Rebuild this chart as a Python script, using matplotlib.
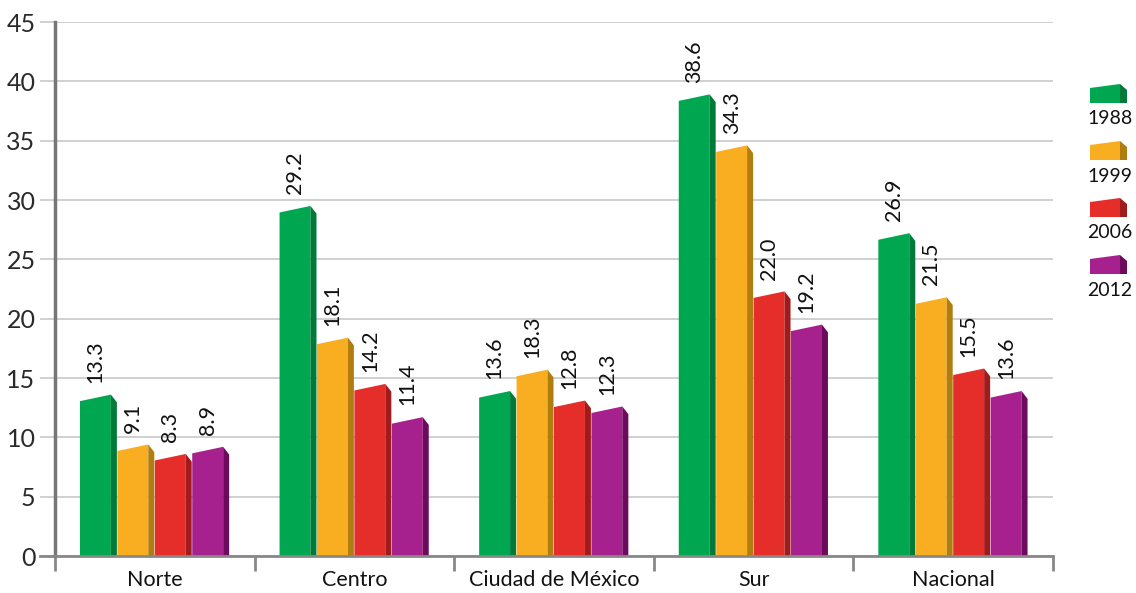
import numpy as np
import matplotlib
matplotlib.use("Agg")
import matplotlib.pyplot as plt
from matplotlib.patches import Polygon

plt.rcParams['font.family'] = ['Lato', 'DejaVu Sans']

regiones = ['Norte', 'Centro', 'Ciudad de México', 'Sur', 'Nacional']
anios = ['1988', '1999', '2006', '2012']

v1988 = [13.3, 29.2, 13.6, 38.6, 26.9]
v1999 = [9.1, 18.1, 18.3, 34.3, 21.5]
v2006 = [8.3, 14.2, 12.8, 22.0, 15.5]
v2012 = [8.9, 11.4, 12.3, 19.2, 13.6]
# the 1999 bar for Ciudad de Mexico is drawn lower than its label in the original
v1999_bar = [9.1, 18.1, 15.4, 34.3, 21.5]

front_cols = ['#00a650', '#f9ae21', '#e52d2a', '#a6208e']
side_cols = ['#007a38', '#b07d10', '#a01b1c', '#6c0a5c']

series_lbl = [v1988, v1999, v2006, v2012]
series_bar = [v1988, v1999_bar, v2006, v2012]

fig = plt.figure(figsize=(11.36, 5.93), dpi=100)
ax = fig.add_axes([55/1136, 1 - 556/593, (1053 - 55)/1136, (556 - 22)/593])
ax.set_xlim(0, 5)
ax.set_ylim(0, 45)

fw = 0.155   # front face
sw = 0.03    # side face
slot = 0.1875
a, b, c = 0.25, 0.3, 0.35

for k in range(4):
    for i in range(5):
        h = series_bar[k][i]
        x = i + 0.125 + k * slot
        front = Polygon([(x, 0), (x, h - a), (x + fw, h + b), (x + fw, 0)],
                        closed=True, facecolor=front_cols[k], edgecolor='none', zorder=3)
        side = Polygon([(x + fw, 0), (x + fw, h + b), (x + fw + sw, h - c), (x + fw + sw, 0)],
                       closed=True, facecolor=side_cols[k], edgecolor='none', zorder=3)
        ax.add_patch(front)
        ax.add_patch(side)
        ax.text(x + fw / 2, h + 1.3, f'{series_lbl[k][i]:.1f}', rotation=90,
                ha='center', va='bottom', fontsize=15.5, color='#111111', zorder=4)

ax.set_yticks(np.arange(0, 46, 5))
ax.yaxis.grid(True, color='#c8c8c8', lw=1.2, zorder=0)
ax.set_axisbelow(True)
ax.tick_params(axis='y', length=11, width=1.2, color='#c8c8c8', labelsize=18, pad=3,
               labelcolor='#2a2a2a')

ax.set_xticks(np.arange(5) + 0.5)
ax.set_xticklabels(regiones, fontsize=15.5, color='#111111')
ax.set_xticks(np.arange(6), minor=True)
ax.tick_params(axis='x', which='major', length=0, pad=10)
ax.tick_params(axis='x', which='minor', length=11, width=2, color='#888888', direction='out')

for s in ['top', 'right']:
    ax.spines[s].set_visible(False)
ax.spines['left'].set_color('#777777')
ax.spines['left'].set_linewidth(2.5)
ax.spines['left'].set_zorder(5)
ax.spines['bottom'].set_color('#888888')
ax.spines['bottom'].set_linewidth(2)
ax.spines['bottom'].set_zorder(5)
ax.plot([-15 / 200, 0], [0, 0], color='#888888', lw=2, clip_on=False, zorder=5)

# legend drawn in pixel coordinates
lg = fig.add_axes([0, 0, 1, 1])
lg.set_xlim(0, 1136)
lg.set_ylim(593, 0)
lg.axis('off')
for k in range(4):
    y0 = 84 + k * 57
    lg.add_patch(Polygon([(1090, y0 + 19), (1090, y0 + 4), (1120, y0), (1120, y0 + 19)],
                         facecolor=front_cols[k], edgecolor='none'))
    lg.add_patch(Polygon([(1120, y0 + 19), (1120, y0), (1127, y0 + 6), (1127, y0 + 19)],
                         facecolor=side_cols[k], edgecolor='none'))
    lg.text(1110, y0 + 35, anios[k], ha='center', va='center', fontsize=14, color='#111111')

fig.savefig('out.png', dpi=100)
